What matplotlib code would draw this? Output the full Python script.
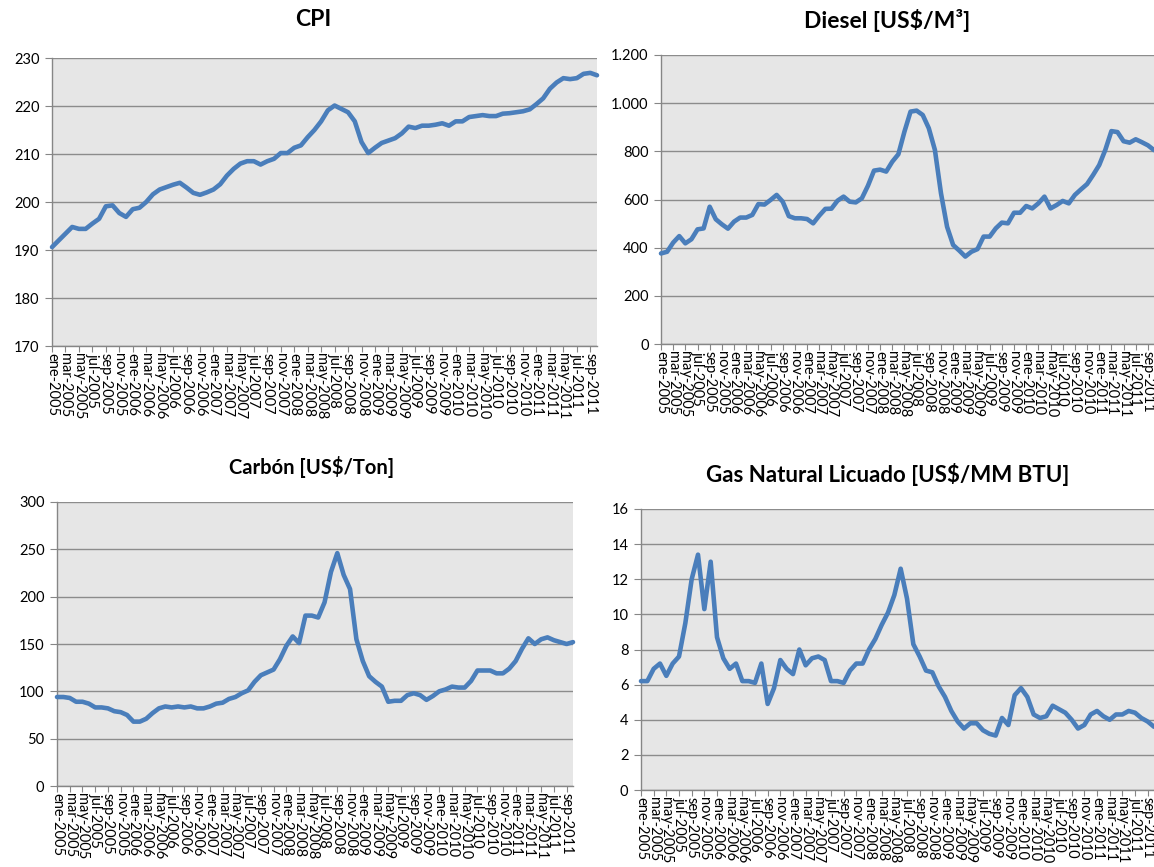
import numpy as np
import matplotlib
matplotlib.use('Agg')
import matplotlib.pyplot as plt
from matplotlib.ticker import FuncFormatter

plt.rcParams['font.family'] = ['Lato', 'DejaVu Sans']

# months ene-2005 .. oct-2011
meses = ['ene', 'feb', 'mar', 'abr', 'may', 'jun', 'jul', 'ago', 'sep', 'oct', 'nov', 'dic']
fechas = ['%s-%d' % (meses[i % 12], 2005 + i // 12) for i in range(82)]

cpi = [190.6, 192.0, 193.4, 194.8, 194.4, 194.4, 195.5, 196.5, 199.1, 199.3,
       197.7, 196.9, 198.5, 198.8, 200.0, 201.6, 202.6, 203.1, 203.6, 204.0,
       203.0, 201.9, 201.5, 202.0, 202.6, 203.7, 205.5, 206.9, 208.0, 208.5,
       208.5, 207.8, 208.5, 209.0, 210.2, 210.2, 211.3, 211.8, 213.5, 215.0,
       216.8, 219.1, 220.1, 219.4, 218.7, 216.8, 212.5, 210.2, 211.3, 212.3,
       212.8, 213.3, 214.3, 215.7, 215.4, 215.9, 215.9, 216.1, 216.4, 215.9,
       216.8, 216.8, 217.7, 217.9, 218.1, 217.9, 217.9, 218.4, 218.5, 218.7,
       218.9, 219.3, 220.4, 221.6, 223.6, 224.9, 225.8, 225.6, 225.8, 226.7,
       226.9, 226.4]

diesel = [376, 383, 421, 448, 418, 435, 476, 480, 570, 518,
          497, 479, 508, 525, 525, 536, 581, 579, 598, 619,
          591, 531, 522, 522, 519, 501, 533, 561, 562, 595,
          612, 591, 588, 605, 657, 720, 724, 716, 757, 788,
          882, 965, 969, 951, 896, 806, 626, 487, 411, 388,
          363, 383, 394, 446, 446, 480, 504, 501, 545, 545,
          573, 563, 584, 612, 563, 577, 594, 584, 619, 642,
          664, 702, 743, 806, 884, 880, 842, 836, 850, 838,
          825, 805]

carbon = [94, 94, 93, 89, 89, 87, 83, 83, 82, 79,
          78, 75, 68, 68, 71, 77, 82, 84, 83, 84,
          83, 84, 82, 82, 84, 87, 88, 92, 94, 98,
          101, 110, 117, 120, 123, 134, 148, 158, 151, 180,
          180, 178, 194, 226, 246, 223, 208, 155, 132, 116,
          110, 105, 89, 90, 90, 96, 98, 96, 91, 95,
          100, 102, 105, 104, 104, 111, 122, 122, 122, 119,
          119, 124, 132, 145, 156, 150, 155, 157, 154, 152,
          150, 152]

gnl = [6.2, 6.2, 6.9, 7.2, 6.5, 7.2, 7.6, 9.5, 12.0, 13.4,
       10.3, 13.0, 8.7, 7.5, 6.9, 7.2, 6.2, 6.2, 6.1, 7.2,
       4.9, 5.8, 7.4, 6.9, 6.6, 8.0, 7.1, 7.5, 7.6, 7.4,
       6.2, 6.2, 6.1, 6.8, 7.2, 7.2, 8.0, 8.6, 9.4, 10.1,
       11.1, 12.6, 10.9, 8.3, 7.6, 6.8, 6.7, 5.9, 5.3, 4.5,
       3.9, 3.5, 3.8, 3.8, 3.4, 3.2, 3.1, 4.1, 3.7, 5.4,
       5.8, 5.3, 4.3, 4.1, 4.2, 4.8, 4.6, 4.4, 4.0, 3.5,
       3.7, 4.3, 4.5, 4.2, 4.0, 4.3, 4.3, 4.5, 4.4, 4.1,
       3.9, 3.6]

W, H = 1154, 867
fig = plt.figure(figsize=(W / 100, H / 100), dpi=100)


def panel(box, data, title, ylim, yticks, title_xy, title_size, fmt=None):
    l, t, r, b = box
    ax = fig.add_axes([l / W, 1 - b / H, (r - l) / W, (b - t) / H])
    ax.set_facecolor('#e6e6e6')
    x = np.arange(len(data))
    ax.plot(x, data, color='#4a7ebb', lw=3.3, solid_capstyle='round',
            solid_joinstyle='round', clip_on=False, zorder=3)
    ax.set_xlim(0, len(data) - 1)
    ax.set_ylim(*ylim)
    ax.set_yticks(yticks)
    if fmt:
        ax.yaxis.set_major_formatter(FuncFormatter(fmt))
    ax.set_xticks(x[::2])
    ax.set_xticklabels(fechas[::2], rotation=-90, fontsize=10.5)
    ax.tick_params(axis='x', length=4, width=0.8, color='#868686', pad=1)
    ax.tick_params(axis='y', length=5, width=0.8, color='#868686',
                   labelsize=10.5, pad=4)
    ax.grid(axis='y', color='#8c8c8c', lw=1.0)
    ax.set_axisbelow(True)
    for s in ['top', 'right']:
        ax.spines[s].set_visible(False)
    for s in ['left', 'bottom']:
        ax.spines[s].set_color('#868686')
        ax.spines[s].set_linewidth(1.0)
    tx, ty = title_xy
    fig.text(tx / W, 1 - ty / H, title, ha='center', va='center',
             fontsize=title_size, fontweight='bold')
    return ax


panel((52, 58, 597, 346), cpi, 'CPI', (170, 230), range(170, 231, 10),
      (313, 19), 16.5)
panel((661, 55, 1154, 344), diesel, 'Diesel [US$/M³]', (0, 1200),
      range(0, 1201, 200), (887, 20), 16.5,
      fmt=lambda v, p: '{:,.0f}'.format(v).replace(',', '.'))
panel((57, 502, 573, 786), carbon, 'Carbón [US$/Ton]', (0, 300),
      range(0, 301, 50), (312, 467), 14.5)
panel((641, 509, 1154, 790), gnl, 'Gas Natural Licuado [US$/MM BTU]',
      (0, 16), range(0, 17, 2), (888, 475), 16)

plt.savefig('out.png', dpi=100)
